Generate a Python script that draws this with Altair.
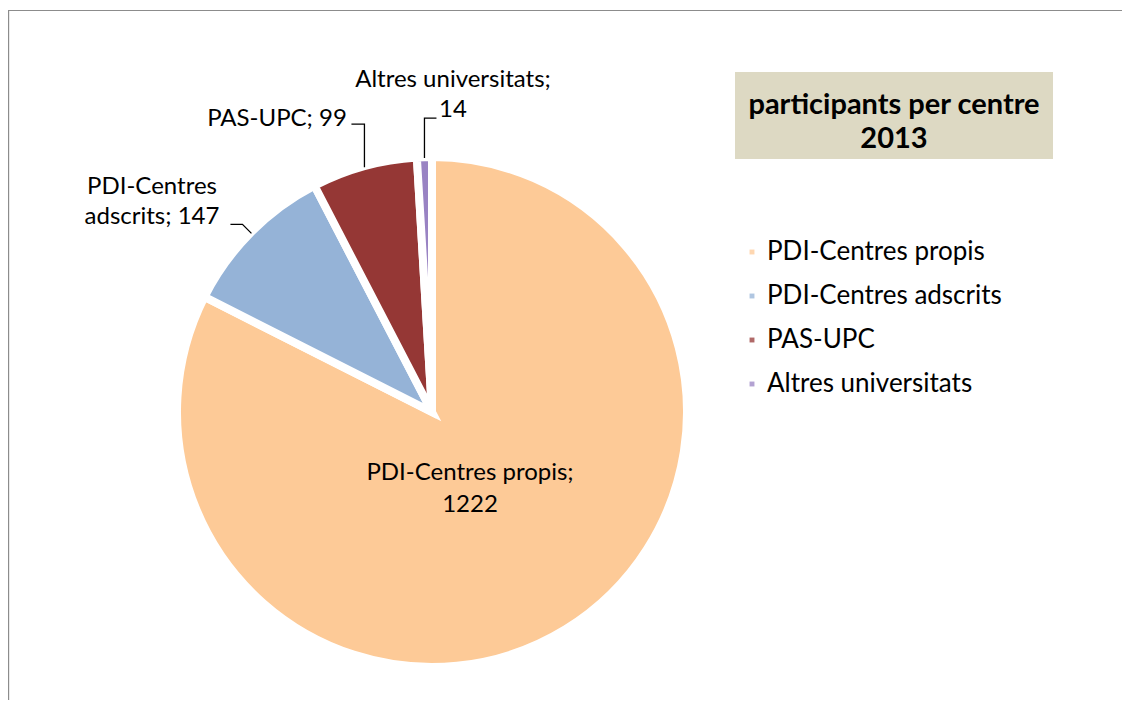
import math
import altair as alt
import pandas as pd

# ---------------- data ----------------
categories = ["PDI-Centres propis", "PDI-Centres adscrits", "PAS-UPC", "Altres universitats"]
values = [1222, 147, 99, 14]
colors = ["#FDCA97", "#95B3D7", "#953735", "#9983C3"]
title_lines = ["participants per centre", "2013"]

# ---------------- layout (view pixel coords) ----------------
W, H = 1114, 690
CX, CY = 424, 402          # pie centre
R_OUT = 255                # arc outer radius (white stroke eats ~4px)
R_EDGE = 254               # where leader lines start
FONT = "Lato"
FS = 24                    # data label font size
FS_LEG = 26                # legend font size
FS_TITLE = 29

# label line breaks and placement (centre x, first-line y) per category
label_split = {
    "PDI-Centres propis": ["{c};", "{v}"],
    "PDI-Centres adscrits": ["PDI-Centres", "adscrits; {v}"],
    "PAS-UPC": ["{c}; {v}"],
    "Altres universitats": ["{c};", "{v}"],
}
label_pos = {
    "PDI-Centres propis": (462, 463),
    "PDI-Centres adscrits": (144, 177),
    "PAS-UPC": (269, 109),
    "Altres universitats": (445, 70),
}
LINE_H = 30
# leader: elbow offset from edge point, then horizontal run
leader = {
    "PDI-Centres adscrits": ((-9, -9), -12),
    "PAS-UPC": ((0, -43), -13),
    "Altres universitats": ((0, -40), 12),
}

total = sum(values)
df = pd.DataFrame({"category": categories, "value": values, "idx": list(range(len(values)))})

# label text rows
rows = []
for c, v in zip(categories, values):
    x0, y0 = label_pos[c]
    lh = LINE_H + (2 if c == "PDI-Centres propis" else 0)
    for i, tmpl in enumerate(label_split[c]):
        rows.append({"x": x0, "y": y0 + i * lh, "text": tmpl.format(c=c, v=v)})
labels_df = pd.DataFrame(rows)

# leader lines derived from slice mid angles
lrows = []
cum = 0
for c, v in zip(categories, values):
    mid = (cum + v / 2) / total * 2 * math.pi
    cum += v
    if c not in leader:
        continue
    ex = CX + R_EDGE * math.sin(mid)
    ey = CY - R_EDGE * math.cos(mid)
    (dx, dy), run = leader[c]
    pts = [(ex, ey), (ex + dx, ey + dy), (ex + dx + run, ey + dy)]
    for k, (px, py) in enumerate(pts):
        lrows.append({"cat": c, "pt": k, "x": px, "y": py})
leader_df = pd.DataFrame(lrows)

# ---------------- chart ----------------
pie = alt.Chart(df).mark_arc(outerRadius=R_OUT, stroke="white", strokeWidth=8).encode(
    theta=alt.Theta("value:Q", stack=True),
    order=alt.Order("idx:Q"),
    color=alt.Color(
        "category:N",
        scale=alt.Scale(domain=categories, range=colors),
        sort=categories,
        legend=alt.Legend(
            title=None, orient="none", legendX=731, legendY=229,
            symbolType="square", symbolSize=24, symbolStrokeWidth=0, symbolOpacity=0.75,
            labelFont=FONT, labelFontSize=FS_LEG, labelColor="black", labelOffset=2,
            rowPadding=18, labelLimit=400,
        ),
    ),
    x=alt.value(CX),
    y=alt.value(CY),
)

xs = dict(scale=None, axis=None)
text = alt.Chart(labels_df).mark_text(font=FONT, fontSize=FS, color="black", align="center", baseline="middle").encode(
    x=alt.X("x:Q", **xs), y=alt.Y("y:Q", **xs), text="text:N"
)
lines = alt.Chart(leader_df).mark_line(color="black", strokeWidth=1.3).encode(
    x=alt.X("x:Q", **xs), y=alt.Y("y:Q", **xs), detail="cat:N", order="pt:Q"
)

title_df = pd.DataFrame({"t": title_lines, "row": [0, 1]})
tbox = alt.Chart(title_df).mark_rect(color="#DDD9C3").encode(
    x=alt.value(727), x2=alt.value(1045), y=alt.value(62), y2=alt.value(149)
)
ttext = alt.Chart(title_df).mark_text(font=FONT, fontSize=FS_TITLE, fontWeight="bold", color="black",
                                      align="center", baseline="middle").encode(
    x=alt.value(886),
    y=alt.Y("row:Q", scale=alt.Scale(domain=[0, 1], range=[95, 129]), axis=None),
    text="t:N",
)

border_top = alt.Chart(title_df).mark_rule(color="#8C8C8C", strokeWidth=1.2).encode(
    x=alt.value(0), x2=alt.value(W), y=alt.value(0.5)
)
border_left = alt.Chart(title_df).mark_rule(color="#8C8C8C", strokeWidth=1.2).encode(
    x=alt.value(0.5), y=alt.value(0), y2=alt.value(H)
)

chart = alt.layer(border_top, border_left, tbox, ttext, pie, lines, text).properties(
    width=W, height=H,
    autosize=alt.AutoSizeParams(type="none"),
    padding={"left": 0, "top": 2, "right": 0, "bottom": 0},
).configure_view(stroke=None).resolve_scale(x="independent", y="independent")

chart.save("out.html", embed_options={"renderer": "svg", "actions": False})
